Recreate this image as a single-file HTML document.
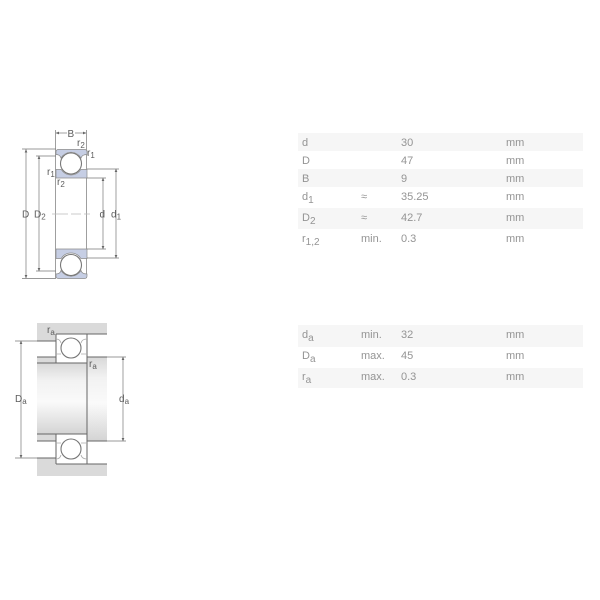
<!DOCTYPE html>
<html><head><meta charset="utf-8"><style>
html,body{margin:0;padding:0;background:#fff}
svg{display:block}
text{font-family:"Liberation Sans",sans-serif;fill:#949494;font-size:11px}
.d text{fill:#5c5c5c;font-size:10px}
.l{stroke:#777;stroke-width:.7;fill:none}
.k{stroke:#666;stroke-width:1;fill:none}
.o{fill:#c6cee4;stroke:#8a8a8a;stroke-width:.7}
.b{fill:#fff;stroke:#777;stroke-width:1.1}
.h{fill:#dadada}
.p{stroke:#aaa;stroke-width:.8;fill:none}
</style></head><body>
<svg width="600" height="600" viewBox="0 0 600 600" xmlns="http://www.w3.org/2000/svg">
<defs>
<linearGradient id="g" x1="0" y1="0" x2="0" y2="1"><stop offset="0" stop-color="#d8d8d8"/><stop offset=".25" stop-color="#f2f2f2"/><stop offset=".55" stop-color="#fafafa"/><stop offset="1" stop-color="#d4d4d4"/></linearGradient>
<marker id="a" markerWidth="5" markerHeight="5" refX="4.5" refY="2" orient="auto-start-reverse"><path d="M0 0L5 2L0 4z" fill="#666"/></marker>
</defs>
<!-- table bands -->
<g fill="#f6f6f6">
<rect x="298" y="133" width="285" height="18"/><rect x="298" y="169" width="285" height="18"/><rect x="298" y="208" width="285" height="21"/>
<rect x="298" y="325" width="285" height="22"/><rect x="298" y="368" width="285" height="20"/>
</g>
<!-- table 1 -->
<text x="302" y="146">d</text><text x="401" y="146">30</text><text x="506" y="146">mm</text>
<text x="302" y="164">D</text><text x="401" y="164">47</text><text x="506" y="164">mm</text>
<text x="302" y="182">B</text><text x="401" y="182">9</text><text x="506" y="182">mm</text>
<text x="302" y="200">d<tspan dy="3" font-size="10">1</tspan></text><text x="361" y="200">≈</text><text x="401" y="200">35.25</text><text x="506" y="200">mm</text>
<text x="302" y="221">D<tspan dy="3" font-size="10">2</tspan></text><text x="361" y="221">≈</text><text x="401" y="221">42.7</text><text x="506" y="221">mm</text>
<text x="302" y="242">r<tspan dy="3" font-size="10">1,2</tspan></text><text x="361" y="242">min.</text><text x="401" y="242">0.3</text><text x="506" y="242">mm</text>
<!-- table 2 -->
<text x="302" y="338">d<tspan dy="3" font-size="10">a</tspan></text><text x="361" y="338">min.</text><text x="401" y="338">32</text><text x="506" y="338">mm</text>
<text x="302" y="359">D<tspan dy="3" font-size="10">a</tspan></text><text x="361" y="359">max.</text><text x="401" y="359">45</text><text x="506" y="359">mm</text>
<text x="302" y="380">r<tspan dy="3" font-size="10">a</tspan></text><text x="361" y="380">max.</text><text x="401" y="380">0.3</text><text x="506" y="380">mm</text>

<!-- top diagram -->
<g class="d">
<path class="l" d="M55.500 130V278M86.500 130V278"/>
<path class="o" d="M56 152Q56 149.500 58.500 149.500H84.500Q87 149.500 87 152V154.500Q82 154.500 81 158A11.500 11.500 0 0 0 61 158Q60 154.500 56 154.500Z"/>
<path class="o" d="M56 169.500H61.200A11.500 11.500 0 0 0 80.800 169.500H87V178H56Z"/>
<path class="o" d="M56 249H87V258.500H80.800A11.500 11.500 0 0 0 61.200 258.500H56Z"/>
<path class="o" d="M56 276Q56 278.500 58.500 278.500H84.500Q87 278.500 87 276V274Q82 274 81 270.500A11.500 11.500 0 0 1 61 270.500Q60 274 56 274Z"/>
<circle class="b" cx="71" cy="163.500" r="10.500"/><circle class="b" cx="71" cy="265" r="10.500"/>
<path d="M52 214H90" stroke="#bbb" stroke-width=".8" stroke-dasharray="16 3 10 3"/>
<path class="l" d="M22 149H56M22 278.500H56M36 156H56M36 271H56M87 169H119M87 258H119M87 178H106M87 249H106"/>
<path class="l" marker-start="url(#a)" marker-end="url(#a)" d="M26 149.500V278"/>
<path class="l" marker-start="url(#a)" marker-end="url(#a)" d="M39 156V271"/>
<path class="l" marker-start="url(#a)" marker-end="url(#a)" d="M103 178V249"/>
<path class="l" marker-start="url(#a)" marker-end="url(#a)" d="M116 169V258"/>
<path class="l" marker-start="url(#a)" d="M56 133H67"/><path class="l" marker-start="url(#a)" d="M86 133H75"/>
<text x="67.500" y="137">B</text>
<text x="22" y="217.500">D</text>
<text x="34" y="217.500">D<tspan dy="2" font-size="8">2</tspan></text>
<text x="99.500" y="217.500">d</text>
<text x="111" y="217.500">d<tspan dy="2" font-size="8">1</tspan></text>
<text x="77" y="146">r<tspan dy="2" font-size="8">2</tspan></text>
<text x="87" y="156">r<tspan dy="2" font-size="8">1</tspan></text>
<text x="47" y="175">r<tspan dy="2" font-size="8">1</tspan></text>
<text x="57" y="185">r<tspan dy="2" font-size="8">2</tspan></text>
</g>

<!-- bottom diagram -->
<g class="d">
<path class="h" d="M37 323H107V334H87V341H37Z"/>
<path class="h" d="M37 458H56V464H107V476H37Z"/>
<rect x="37" y="357" width="19" height="6" class="h"/><rect x="37" y="434" width="19" height="7" class="h"/>
<rect x="37" y="363" width="50" height="71" fill="url(#g)"/>
<rect x="87" y="357" width="20" height="84" fill="url(#g)"/>
<rect x="56" y="334" width="31" height="29" fill="#fff"/><rect x="56" y="434" width="31" height="30" fill="#fff"/>
<path class="k" d="M37 341H56M87 334H107M37 363H87M37 357H56M87 357H107M87 441H107M37 434H87M37 441H56M37 458H56M87 464H107M56 334H87M56 464H87"/>
<path class="k" d="M87 334V464M56 334V363M56 434V464"/>
<path class="p" d="M56 339Q60 339 61 343M87 339Q82 339 81 343M56 354H61M81 354H87M56 443H61M81 443H87M56 459Q60 459 61 455M87 459Q82 459 81 455"/>
<circle class="b" cx="71" cy="348" r="10"/><circle class="b" cx="71" cy="449" r="10"/>
<path class="l" d="M15 341H37M15 458H37M107 357H126M107 441H126"/>
<path class="l" marker-start="url(#a)" marker-end="url(#a)" d="M21 341V458"/>
<path class="l" marker-start="url(#a)" marker-end="url(#a)" d="M123 357V441"/>
<text x="15" y="402">D<tspan dy="2" font-size="8">a</tspan></text>
<text x="119" y="402">d<tspan dy="2" font-size="8">a</tspan></text>
<text x="47" y="333">r<tspan dy="2" font-size="8">a</tspan></text>
<text x="89" y="367">r<tspan dy="2" font-size="8">a</tspan></text>
</g>
</svg>
</body></html>
